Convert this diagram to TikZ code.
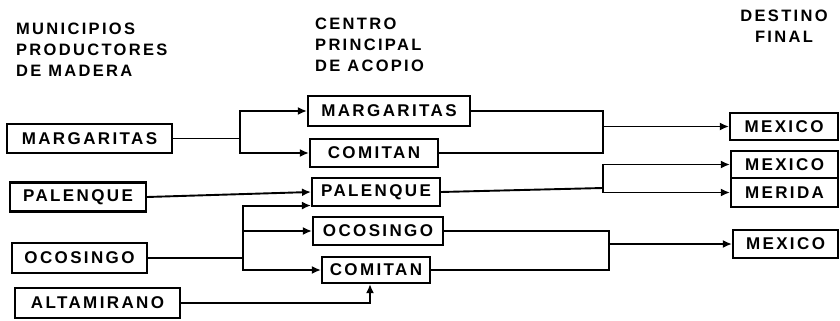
\documentclass[tikz,border=0pt]{standalone}
\usepackage{fontspec}
\setmainfont{Liberation Sans}
\newfontfamily\diagfont{Liberation Sans}[LetterSpace=14]
\usetikzlibrary{arrows.meta}
\begin{document}
\begin{tikzpicture}[x=1pt,y=-1pt,
  box/.style={draw, line width=2.1pt, inner sep=0pt, font=\diagfont\bfseries\fontsize{17}{19}\selectfont},
  link/.style={line width=1.9pt},
  arr/.style={link, -{Latex[length=9pt,width=8pt]}},
  head/.style={inner sep=0pt, font=\diagfont\bfseries\fontsize{16.5}{21}\selectfont}]
\useasboundingbox (0,0) rectangle (840,321);

% headings
\node[head, anchor=north west, align=left] (h1) at (16,23) {MUNICIPIOS\\PRODUCTORES\\DE MADERA};
\node[head, anchor=north west, align=left] (h2) at (315,18) {CENTRO\\PRINCIPAL\\DE ACOPIO};
\node[head, anchor=north, align=center] (h3) at (784,10) {DESTINO\\FINAL};

% left column
\node[box, minimum width=165, minimum height=29] (L1) at (89.5,138.5) {MARGARITAS};
\node[box, minimum width=136, minimum height=29] (L2) at (78,197) {PALENQUE};
\node[box, minimum width=135, minimum height=30] (L3) at (79.5,258) {OCOSINGO};
\node[box, minimum width=165, minimum height=30] (L4) at (97.5,303) {ALTAMIRANO};

% centre column
\node[box, minimum width=162, minimum height=30] (C1) at (389,111) {MARGARITAS};
\node[box, minimum width=128, minimum height=28] (C2) at (374,153) {COMITAN};
\node[box, minimum width=128, minimum height=28] (C3) at (376,192) {PALENQUE};
\node[box, minimum width=130, minimum height=28] (C4) at (378,231) {OCOSINGO};
\node[box, minimum width=108, minimum height=26] (C5) at (376,270) {COMITAN};

% right column
\node[box, minimum width=108, minimum height=27] (R1) at (784,126.5) {MEXICO};
\node[box, minimum width=107, minimum height=27] (R2) at (784.5,164.5) {MEXICO};
\node[box, minimum width=107, minimum height=29] (R3) at (784.5,192.5) {MERIDA};
\node[box, minimum width=105, minimum height=28] (R4) at (785.5,244) {MEXICO};

% left -> centre
\coordinate (jA) at (240,138.5);
\draw[link] (L1.east) -- (jA);
\draw[arr] (jA) |- (C1.west);
\draw[arr] (jA) |- (C2.west);
\draw[arr] (L2.east) -- (C3.west);
\coordinate (jB) at (243,258);
\draw[link] (L3.east) -- (jB);
\draw[arr] (jB) |- ([yshift=1.5pt]C3.south west);
\draw[arr] (jB) |- (C4.west);
\draw[arr] (jB) |- (C5.west);
\draw[arr] (L4.east) -| ([xshift=-6pt]C5.south);

% centre -> right
\coordinate (jC) at (603,126.5);
\draw[link] (C1.east) -| (jC);
\draw[link] (C2.east) -| (jC);
\draw[arr] (jC) -- (R1.west);
\coordinate (jD) at (603,188);
\draw[link] (C3.east) -- (jD);
\draw[arr] (jD) |- (R2.west);
\draw[arr] (jD) |- (R3.west);
\coordinate (jE) at (609,244);
\draw[link] (C4.east) -| (jE);
\draw[link] (C5.east) -| (jE);
\draw[arr] (jE) -- (R4.west);
\end{tikzpicture}
\end{document}
